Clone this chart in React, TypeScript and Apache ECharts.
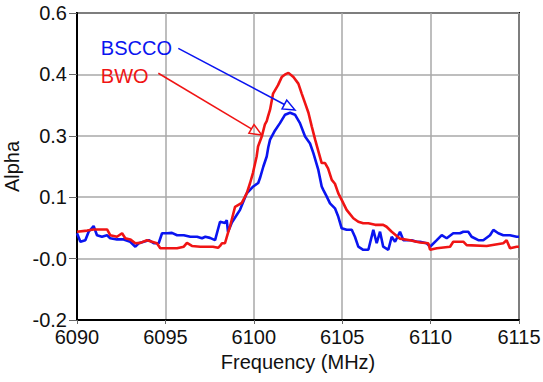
import React, { useEffect, useRef } from "react";
import * as echarts from "echarts";

// Frequency (MHz) and Alpha values
const freqBscco = [
  6090.0, 6090.19, 6090.47, 6090.66, 6090.94, 6091.13, 6091.41, 6091.7, 6091.88, 6092.26,
  6092.64, 6093.01, 6093.3, 6093.49, 6093.77, 6094.06, 6094.34, 6094.62, 6094.81, 6095.09,
  6095.37, 6095.66, 6096.04, 6096.41, 6096.79, 6097.07, 6097.26, 6097.52, 6097.81, 6098.09,
  6098.37, 6098.47, 6098.54, 6098.75, 6099.05, 6099.22, 6099.6, 6099.97, 6100.25, 6100.35,
  6100.54, 6100.73, 6100.82, 6100.92, 6101.2, 6101.48, 6101.77, 6102.05, 6102.33, 6102.61,
  6102.9, 6103.18, 6103.37, 6103.65, 6103.84, 6103.93, 6104.12, 6104.31, 6104.59, 6104.78,
  6104.97, 6105.25, 6105.54, 6105.72, 6105.91, 6106.19, 6106.48, 6106.76, 6106.95, 6107.14,
  6107.32, 6107.61, 6107.8, 6107.99, 6108.27, 6108.46, 6108.65, 6108.93, 6109.21, 6109.4,
  6109.78, 6109.97, 6110.35, 6110.63, 6110.91, 6111.28, 6111.66, 6111.85, 6112.13, 6112.32,
  6112.7, 6112.98, 6113.36, 6113.55, 6113.83, 6114.11, 6114.49, 6114.87, 6115.0,
];
const alphaBscco = [
  0.026, 0.004, 0.008, 0.03, 0.045, 0.021, 0.017, 0.021, 0.013, 0.01,
  0.01, 0.004, -0.009, 0.0, 0.004, 0.008, 0.0, 0.0, 0.026, 0.026,
  0.027, 0.021, 0.021, 0.017, 0.017, 0.013, 0.017, 0.014, 0.008, 0.056,
  0.053, 0.06, 0.03, 0.053, 0.075, 0.087, 0.13, 0.148, 0.157, 0.17,
  0.2, 0.226, 0.25, 0.27, 0.294, 0.313, 0.335, 0.34, 0.335, 0.313,
  0.278, 0.26, 0.235, 0.191, 0.148, 0.139, 0.122, 0.104, 0.091, 0.069,
  0.039, 0.035, 0.035, 0.017, -0.009, -0.017, -0.017, 0.035, 0.0, 0.03,
  -0.009, -0.017, 0.017, 0.004, 0.03, 0.008, 0.008, 0.008, 0.004, 0.004,
  0.0, -0.009, 0.008, 0.021, 0.013, 0.026, 0.026, 0.03, 0.03, 0.017,
  0.008, 0.008, 0.021, 0.035, 0.026, 0.021, 0.021, 0.017, 0.017,
];

const freqBwo = [
  6090.0, 6090.57, 6090.94, 6091.7, 6091.88, 6092.26, 6092.55, 6092.73, 6093.01, 6093.3,
  6093.58, 6093.96, 6094.24, 6094.52, 6094.71, 6095.28, 6095.66, 6096.04, 6096.22, 6096.5,
  6096.97, 6097.35, 6097.69, 6097.98, 6098.09, 6098.2, 6098.37, 6098.54, 6098.65, 6098.94,
  6099.32, 6099.6, 6099.79, 6099.95, 6100.16, 6100.24, 6100.45, 6100.63, 6100.73, 6100.8,
  6100.92, 6101.09, 6101.37, 6101.58, 6101.77, 6101.96, 6102.24, 6102.52, 6102.71, 6102.9,
  6103.09, 6103.28, 6103.47, 6103.65, 6103.84, 6104.03, 6104.2, 6104.41, 6104.59, 6104.78,
  6104.97, 6105.25, 6105.63, 6105.91, 6106.19, 6106.48, 6106.86, 6107.32, 6107.51, 6107.8,
  6108.27, 6108.83, 6109.4, 6109.87, 6109.97, 6110.35, 6111.1, 6111.28, 6111.85, 6112.04,
  6113.17, 6114.11, 6114.3, 6114.49, 6114.87, 6115.0,
];
const alphaBwo = [
  0.03, 0.033, 0.036, 0.036, 0.021, 0.017, 0.026, 0.013, 0.01, 0.0,
  0.001, 0.008, 0.004, 0.0, -0.013, -0.013, -0.013, -0.009, 0.001, -0.007,
  -0.009, -0.009, -0.009, -0.012, -0.007, 0.0, 0.0, 0.027, 0.043, 0.095,
  0.105, 0.13, 0.157, 0.183, 0.226, 0.252, 0.278, 0.31, 0.318, 0.33,
  0.348, 0.39, 0.412, 0.433, 0.44, 0.444, 0.433, 0.416, 0.39, 0.365,
  0.34, 0.304, 0.27, 0.24, 0.209, 0.209, 0.195, 0.165, 0.155, 0.13,
  0.113, 0.087, 0.065, 0.056, 0.052, 0.052, 0.048, 0.048, 0.043, 0.03,
  0.012, 0.008, 0.002, 0.0, -0.017, -0.013, -0.009, 0.004, 0.004, -0.005,
  -0.007, 0.0, 0.008, -0.013, -0.009, -0.009,
];

const xMin = 6090;
const xMax = 6115;
const xStep = 5;
// The y axis of the original runs -0.2..0.6 in 5 equal steps (labels rounded to 1 decimal)
const yMin = -0.2;
const yMax = 0.6;
const yStep = 0.16;

const seriesNames = ["BSCCO", "BWO"];
const seriesColors = ["#0a14f0", "#f01414"];

// Annotation anchors in data units
const labelPos = [
  [6091.35, 0.5075],
  [6091.35, 0.437],
];
const arrowStart = [
  [6095.73, 0.508],
  [6094.6, 0.443],
];
const arrowTip = [
  [6102.33, 0.347],
  [6100.45, 0.282],
];

const FONT = '"Liberation Sans", Arial, sans-serif';
const TEXT = "#111111";

export default function App() {
  const ref = useRef<HTMLDivElement>(null);
  useEffect(() => {
    if (!ref.current) return;
    const chart = echarts.init(ref.current, null, { renderer: "svg" });
    const shift = (v: number) => v - yMin;
    const toPts = (xs: number[], ys: number[]) => xs.map((x, i) => [x, shift(ys[i])]);
    chart.setOption({
      animation: false,
      backgroundColor: "#ffffff",
      grid: {
        left: 77,
        right: 24,
        top: 13,
        bottom: 62,
        outerBoundsMode: "none",
        containLabel: false,
        show: true,
        borderColor: "#000",
        borderWidth: 2,
        backgroundColor: "transparent",
      },
      xAxis: {
        type: "value",
        min: xMin,
        max: xMax,
        interval: xStep,
        name: "Frequency (MHz)",
        nameLocation: "middle",
        nameGap: 31,
        nameTextStyle: { fontSize: 20, fontFamily: FONT, color: TEXT },
        axisLine: { show: true, onZero: false, lineStyle: { color: "#000", width: 2 } },
        axisTick: { show: true, length: 4, lineStyle: { color: "#666", width: 1 } },
        axisLabel: {
          fontSize: 20,
          fontFamily: FONT,
          color: TEXT,
          margin: 7,
          formatter: (v: number) => String(Math.round(v)),
        },
        splitLine: { show: true, lineStyle: { color: "#a8a8a8", width: 1.5 } },
      },
      yAxis: {
        type: "value",
        min: 0,
        max: shift(yMax),
        interval: yStep,
        name: "Alpha",
        nameLocation: "middle",
        nameGap: 43,
        nameTextStyle: { fontSize: 20, fontFamily: FONT, color: TEXT },
        axisLine: { show: true, onZero: false, lineStyle: { color: "#000", width: 2 } },
        axisTick: { show: true, length: 8, lineStyle: { color: "#666", width: 1 } },
        axisLabel: {
          fontSize: 20,
          fontFamily: FONT,
          color: TEXT,
          margin: 10,
          formatter: (v: number) => (v + yMin).toFixed(1),
        },
        splitLine: { show: true, lineStyle: { color: "#a8a8a8", width: 1.5 } },
      },
      series: [
        {
          name: seriesNames[0],
          type: "line",
          data: toPts(freqBscco, alphaBscco),
          showSymbol: false,
          lineStyle: { color: seriesColors[0], width: 2.6 },
          z: 3,
        },
        {
          name: seriesNames[1],
          type: "line",
          data: toPts(freqBwo, alphaBwo),
          showSymbol: false,
          lineStyle: { color: seriesColors[1], width: 2.6 },
          z: 4,
        },
      ],
    });

    const px = (p: number[]) => chart.convertToPixel({ gridIndex: 0 }, [p[0], shift(p[1])]) as number[];
    const graphic: any[] = [];
    seriesNames.forEach((name, i) => {
      const lp = px(labelPos[i]);
      const s = px(arrowStart[i]);
      const t = px(arrowTip[i]);
      const dx = t[0] - s[0];
      const dy = t[1] - s[1];
      const len = Math.hypot(dx, dy);
      const ux = dx / len;
      const uy = dy / len;
      const headL = 12;
      const headW = 5;
      const bx = t[0] - ux * headL;
      const by = t[1] - uy * headL;
      graphic.push({
        type: "text",
        x: lp[0],
        y: lp[1],
        z: 10,
        style: {
          text: name,
          fill: seriesColors[i],
          font: `20px ${FONT}`,
          align: "left",
          verticalAlign: "middle",
        },
      });
      graphic.push({
        type: "line",
        z: 10,
        shape: { x1: s[0], y1: s[1], x2: bx, y2: by },
        style: { stroke: seriesColors[i], lineWidth: 1.5 },
      });
      graphic.push({
        type: "polygon",
        z: 10,
        shape: {
          points: [
            [t[0], t[1]],
            [bx - uy * headW, by + ux * headW],
            [bx + uy * headW, by - ux * headW],
          ],
        },
        style: { stroke: seriesColors[i], fill: "none", lineWidth: 1.5 },
      });
    });
    chart.setOption({ graphic });

    return () => chart.dispose();
  }, []);
  return <div ref={ref} style={{ width: 543, height: 382, position: "absolute", left: 0, top: 0 }} />;
}
